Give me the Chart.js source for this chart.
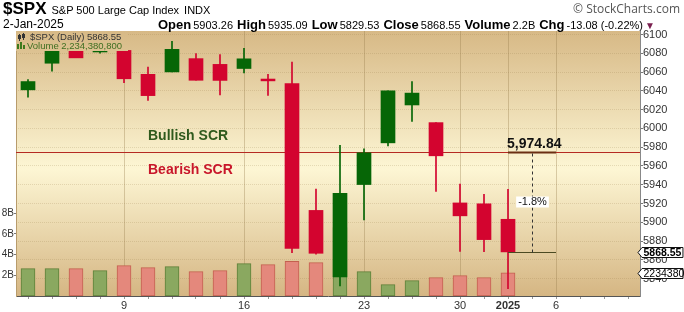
<!DOCTYPE html>
<html>
<head>
<meta charset="utf-8">
<title>$SPX Daily</title>
<script src="https://cdn.jsdelivr.net/npm/chart.js@4.4.1/dist/chart.umd.min.js"></script>
<style>
  html, body { margin: 0; padding: 0; background: #fff; }
  #wrap { position: relative; width: 684px; height: 312px; overflow: hidden;
          font-family: "Liberation Sans", Arial, sans-serif; color: #000; }
  #c { position: absolute; left: 0; top: 0; }
  .hdr { position: absolute; white-space: nowrap; }
  .b13 { font-weight: bold; font-size: 13px; }
  .v11 { font-size: 11px; margin-left: 2px; margin-right: 4px; }
</style>
</head>
<body>
<div id="wrap">
  <canvas id="c" width="684" height="312"></canvas>
  <div class="hdr" id="title" style="left:3px; top:0px; height:18px; line-height:18px;"></div>
  <div class="hdr" id="brand" style="right:4px; top:2px; height:14px; line-height:14px; font-family:'Open Sans',sans-serif; font-size:12px; color:#555;">&copy; StockCharts.com</div>
  <div class="hdr" id="date" style="left:3px; top:17px; height:14px; line-height:14px; font-size:12px;"></div>
  <div class="hdr" id="quote" style="left:158px; top:17px; height:14px; line-height:14px;"></div>
</div>
<script>
// Trading sessions on the category axis (the last five are empty slots ahead of the data)
const days = ['2024-12-03','2024-12-04','2024-12-05','2024-12-06','2024-12-09','2024-12-10','2024-12-11',
  '2024-12-12','2024-12-13','2024-12-16','2024-12-17','2024-12-18','2024-12-19','2024-12-20','2024-12-23',
  '2024-12-24','2024-12-26','2024-12-27','2024-12-30','2024-12-31','2025-01-02',
  '2025-01-03','2025-01-06','2025-01-07','2025-01-08','2025-01-09'];

// Daily OHLC of the S&P 500
const opens  = [6041.06,6069.39,6089.03,6081.38,6083.01,6057.59,6060.15,6074.29,6068.17,6063.79,6052.55,
  6047.65,5912.71,5842.00,5940.25,5984.63,6024.97,6006.17,5920.67,5919.74,5903.26];
const highs  = [6052.07,6089.84,6099.97,6099.97,6088.51,6065.40,6092.59,6079.68,6078.58,6085.19,6057.68,
  6070.67,5935.52,5982.06,5978.25,6040.10,6049.75,6006.17,5940.79,5929.74,5935.09];
const lows   = [6033.39,6061.06,6079.98,6079.98,6048.63,6029.89,6060.15,6051.25,6035.77,6059.14,6035.19,
  5867.79,5866.07,5832.30,5902.57,5981.44,6007.37,5932.95,5869.16,5868.86,5829.53];
const closes = [6049.88,6086.49,6075.11,6090.27,6052.85,6034.91,6084.19,6051.25,6051.09,6074.08,6050.61,
  5872.16,5867.08,5930.85,5974.07,6040.04,6037.59,5970.84,5906.94,5881.63,5868.55];

// Daily volume (shares)
const volumes = [2.65e9,2.65e9,2.65e9,2.45e9,2.94e9,2.74e9,2.84e9,2.36e9,2.45e9,3.13e9,3.03e9,
  3.34e9,3.23e9,6.6e9,2.36e9,1.10e9,1.49e9,1.78e9,1.97e9,1.78e9,2234380800];

// Dates that carry an x-axis label, and the label shown
const tickDates  = ['2024-12-09','2024-12-16','2024-12-23','2024-12-30','2025-01-02','2025-01-06'];
const tickLabels = ['9','16','23','30','2025','6'];

// Volume axis labels (billions)
const volTicks = [2, 4, 6, 8];

// Price axis range and the support/resistance level
const priceMin = 5821.6, priceMax = 6103.7, priceStep = 20;
const volMax = 25.6e9;
const scrLevel = 5974.84;

const GREEN = '#066606', RED = '#d3042f';
const VOL_GREEN = '#8aa860', VOL_GREEN_EDGE = '#5f8038';
const VOL_RED = '#e4887c', VOL_RED_EDGE = '#c4604f';
const FONT = '"Liberation Sans", Arial, sans-serif';

const n = closes.length;
const last = n - 1;
const up = closes.map((c, i) => c >= opens[i]);
const tickMap = {};
tickDates.forEach((d, k) => { tickMap[days.indexOf(d)] = tickLabels[k]; });

// ---- header text ----
const fmt2 = v => v.toFixed(2);
const chg = closes[last] - closes[last - 1];
const chgPct = chg / closes[last - 1] * 100;
const lastDate = new Date(days[last] + 'T12:00:00');
const mon = ['Jan','Feb','Mar','Apr','May','Jun','Jul','Aug','Sep','Oct','Nov','Dec'][lastDate.getMonth()];
document.getElementById('title').innerHTML =
  '<span style="font-weight:bold;font-size:17px;">$SPX</span>' +
  '<span style="font-size:11px;margin-left:5px;">S&amp;P 500 Large Cap Index</span>' +
  '<span style="font-size:11px;margin-left:5px;">INDX</span>';
document.getElementById('date').textContent = lastDate.getDate() + '-' + mon + '-' + lastDate.getFullYear();
document.getElementById('quote').innerHTML =
  '<span class="b13">Open</span><span class="v11">' + fmt2(opens[last]) + '</span>' +
  '<span class="b13">High</span><span class="v11">' + fmt2(highs[last]) + '</span>' +
  '<span class="b13">Low</span><span class="v11">' + fmt2(lows[last]) + '</span>' +
  '<span class="b13">Close</span><span class="v11">' + fmt2(closes[last]) + '</span>' +
  '<span class="b13">Volume</span><span class="v11">' + (volumes[last] / 1e9).toFixed(1) + 'B</span>' +
  '<span class="b13">Chg</span><span class="v11" style="margin-right:2px;">' + fmt2(chg) + ' (' + chgPct.toFixed(2) + '%)</span>' +
  '<span style="font-size:10px;color:#7a2050;">&#9660;</span>';

// ---- chart decorations ----
const decor = {
  id: 'decor',
  beforeDraw(chart) {
    const { ctx, chartArea: a } = chart;
    const g = ctx.createLinearGradient(0, a.top, 0, a.bottom);
    g.addColorStop(0, '#d7b986');
    g.addColorStop(0.52, '#fdf6d4');
    g.addColorStop(1, '#d5b683');
    chart.$bgFill = g;
    ctx.save();
    ctx.fillStyle = g;
    ctx.fillRect(a.left, a.top, a.right - a.left, a.bottom - a.top);
    ctx.restore();
  },
  beforeDatasetsDraw(chart) {
    const { ctx, chartArea: a, scales } = chart;
    const py = Math.round(scales.y.getPixelForValue(scrLevel)) + 0.5;
    ctx.save();
    ctx.strokeStyle = '#b52a22';
    ctx.lineWidth = 1;
    ctx.beginPath();
    ctx.moveTo(a.left, py);
    ctx.lineTo(a.right, py);
    ctx.stroke();
    ctx.restore();
  },
  afterDatasetsDraw(chart) {
    const { ctx, chartArea: a, scales } = chart;
    const x = scales.x, y = scales.y;
    const scrY = Math.round(y.getPixelForValue(scrLevel)) + 0.5;
    const closeY = Math.round(y.getPixelForValue(closes[last])) + 0.5;
    const x0 = x.getPixelForValue(last);
    const xMid = x.getPixelForValue(last + 1) + 0.5;
    const x2 = x.getPixelForValue(last + 2);

    ctx.save();
    // zone labels either side of the level
    ctx.font = 'bold 14px ' + FONT;
    ctx.textAlign = 'left';
    ctx.textBaseline = 'alphabetic';
    const xz = x.getPixelForValue(5);
    ctx.fillStyle = '#2f5a1c';
    ctx.fillText('Bullish SCR', xz, scrY - 13);
    ctx.fillStyle = '#c8162a';
    ctx.fillText('Bearish SCR', xz, scrY + 21);

    // level marker, projected from the last session
    ctx.strokeStyle = '#6b2e12';
    ctx.lineWidth = 2;
    ctx.beginPath();
    ctx.moveTo(x0, scrY);
    ctx.lineTo(x2, scrY);
    ctx.stroke();
    ctx.fillStyle = '#111';
    ctx.font = 'bold 14px ' + FONT;
    ctx.fillText(scrLevel.toLocaleString('en-US', { minimumFractionDigits: 2 }), x0 - 1, scrY - 5);

    // distance from close to the level
    ctx.strokeStyle = '#4b4a22';
    ctx.lineWidth = 1;
    ctx.beginPath();
    ctx.moveTo(x0, closeY);
    ctx.lineTo(x2, closeY);
    ctx.stroke();
    ctx.setLineDash([3, 3]);
    ctx.strokeStyle = '#333';
    ctx.beginPath();
    ctx.moveTo(xMid, scrY + 1);
    ctx.lineTo(xMid, closeY);
    ctx.stroke();
    ctx.setLineDash([]);
    const pct = ((closes[last] - scrLevel) / scrLevel * 100).toFixed(1) + '%';
    ctx.font = '11px ' + FONT;
    const pw = ctx.measureText(pct).width + 4;
    const pyMid = (scrY + closeY) / 2 - 1;
    ctx.fillStyle = '#fff';
    ctx.fillRect(xMid - pw / 2, pyMid - 5, pw, 11);
    ctx.fillStyle = '#111';
    ctx.textAlign = 'center';
    ctx.textBaseline = 'middle';
    ctx.fillText(pct, xMid, pyMid + 0.5);

    // legend block in the top-left corner
    ctx.fillStyle = chart.$bgFill;
    ctx.fillRect(a.left, a.top, 112, 20);
    ctx.textAlign = 'left';
    ctx.textBaseline = 'middle';
    ctx.fillStyle = '#333';
    // candle glyph
    ctx.fillRect(a.left + 3, a.top + 3, 1, 7);
    ctx.fillRect(a.left + 2, a.top + 4, 3, 4);
    ctx.fillRect(a.left + 7, a.top + 2, 1, 7);
    ctx.fillRect(a.left + 6, a.top + 3, 3, 4);
    ctx.font = '9.5px ' + FONT;
    ctx.fillText('$SPX (Daily) ' + closes[last].toFixed(2), a.left + 14, a.top + 6.5);
    // volume glyph
    ctx.fillStyle = '#3d7a1c';
    ctx.fillRect(a.left + 1, a.top + 13, 2, 5);
    ctx.fillRect(a.left + 4, a.top + 11, 2, 7);
    ctx.fillRect(a.left + 7, a.top + 14, 2, 4);
    ctx.fillStyle = '#3f6f22';
    ctx.font = '9.5px ' + FONT;
    ctx.fillText('Volume ' + volumes[last].toLocaleString('en-US'), a.left + 11, a.top + 15.5);
    ctx.restore();
  },
  afterDraw(chart) {
    const { ctx, chartArea: a, scales } = chart;
    const tag = (py, text, bold) => {
      const l = a.right - 2;
      ctx.save();
      ctx.font = (bold ? 'bold ' : '') + '10.5px ' + FONT;
      const w = Math.min(ctx.measureText(text).width + 3, chart.width - l - 5);
      ctx.beginPath();
      ctx.moveTo(l, py);
      ctx.lineTo(l + 4, py - 5);
      ctx.lineTo(l + 4 + w, py - 5);
      ctx.lineTo(l + 4 + w, py + 5);
      ctx.lineTo(l + 4, py + 5);
      ctx.closePath();
      ctx.fillStyle = '#fff';
      ctx.fill();
      ctx.strokeStyle = '#111';
      ctx.lineWidth = 1;
      ctx.stroke();
      ctx.fillStyle = '#000';
      ctx.textBaseline = 'middle';
      ctx.textAlign = 'left';
      ctx.fillText(text, l + 5.5, py + 0.5);
      ctx.restore();
    };
    tag(Math.round(scales.y.getPixelForValue(closes[last])) + 0.5, closes[last].toFixed(2), true);
    tag(Math.round(scales.vol.getPixelForValue(volumes[last])) + 0.5, String(Math.floor(volumes[last] / 1000)), false);
  }
};

const bodyData = opens.map((o, i) => [o, closes[i]]);
const wickData = lows.map((l, i) => [l, highs[i]]);
const candleColors = up.map(u => u ? GREEN : RED);

new Chart(document.getElementById('c'), {
  type: 'bar',
  data: {
    labels: days,
    datasets: [
      {
        label: 'Volume', data: volumes, yAxisID: 'vol', grouped: false, order: 3,
        barThickness: 14,
        backgroundColor: up.map(u => u ? VOL_GREEN : VOL_RED),
        borderColor: up.map(u => u ? VOL_GREEN_EDGE : VOL_RED_EDGE),
        borderWidth: 1, borderSkipped: false
      },
      {
        label: 'Range', data: wickData, yAxisID: 'y', grouped: false, order: 2,
        barThickness: 1, backgroundColor: candleColors, borderWidth: 0
      },
      {
        label: 'Body', data: bodyData, yAxisID: 'y', grouped: false, order: 1,
        barThickness: 14, backgroundColor: candleColors, borderWidth: 0
      }
    ]
  },
  options: {
    responsive: false,
    animation: false,
    events: [],
    layout: { padding: { top: 31, left: 0, right: 0, bottom: 0 } },
    plugins: { legend: { display: false }, tooltip: { enabled: false } },
    scales: {
      x: {
        type: 'category',
        offset: true,
        grid: {
          offset: false,
          color: c => (tickMap[c.index] !== undefined ? 'rgba(150,122,74,0.35)' : 'rgba(0,0,0,0)'),
          tickColor: '#999',
          tickLength: 3
        },
        border: { color: '#555' },
        ticks: {
          autoSkip: false, maxRotation: 0, padding: 0, color: '#333',
          font: c => ({ family: FONT, size: 11, weight: (c.tick && c.tick.label === '2025') ? 'bold' : 'normal' }),
          callback: (v, i) => (tickMap[i] !== undefined ? tickMap[i] : '')
        },
        afterFit(s) { s.height = 16; }
      },
      y: {
        type: 'linear',
        position: 'right',
        min: priceMin, max: priceMax,
        grid: { color: 'rgba(150,122,74,0.22)', tickColor: '#777', tickLength: 3 },
        border: { display: true, color: '#888', dash: [1, 1] },
        ticks: {
          stepSize: priceStep, includeBounds: false, maxTicksLimit: 30, padding: 0, color: '#333',
          font: { family: FONT, size: 11 },
          callback: v => String(v)
        },
        afterFit(s) { s.width = 44; }
      },
      vol: {
        type: 'linear',
        position: 'left',
        min: 0, max: volMax,
        grid: { drawOnChartArea: false, tickLength: 2, tickColor: '#777' },
        border: { color: '#b89c6c' },
        afterBuildTicks(s) { s.ticks = volTicks.map(v => ({ value: v * 1e9 })); },
        ticks: {
          padding: 0, color: '#333',
          font: { family: FONT, size: 10 },
          callback: v => Math.round(v / 1e9) + 'B'
        },
        afterFit(s) { s.width = 16; }
      }
    }
  },
  plugins: [decor]
});
</script>
</body>
</html>
